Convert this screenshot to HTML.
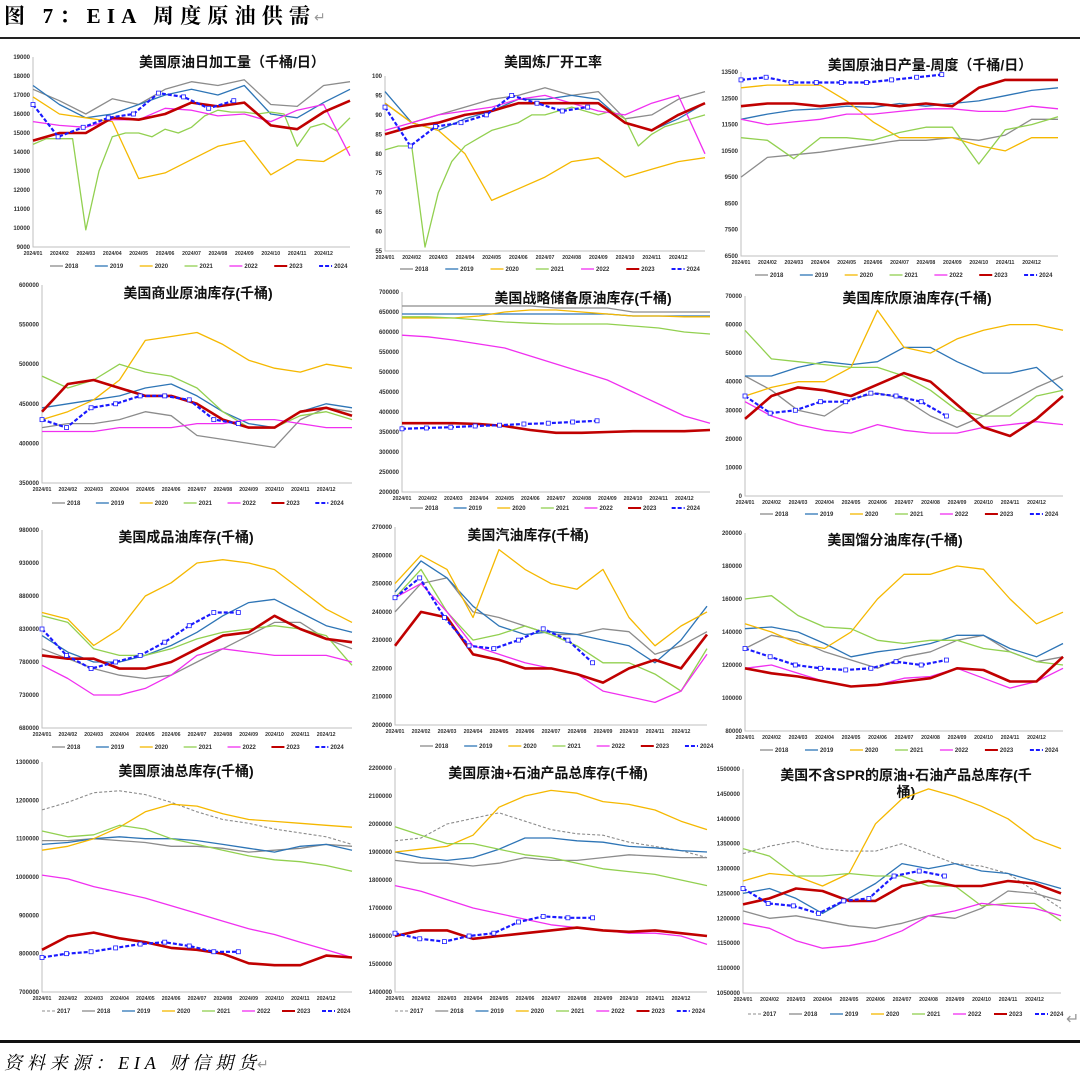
<!DOCTYPE html>
<html><head><meta charset="utf-8">
<style>
html,body{margin:0;padding:0;background:#fff;}
svg{display:block;font-family:"Liberation Sans","Noto Sans CJK SC",sans-serif;}
</style></head>
<body>
<svg id="root" width="1080" height="1078" viewBox="0 0 1080 1078" xmlns="http://www.w3.org/2000/svg">
<text x="4" y="23" font-size="21" font-weight="bold" font-family="Liberation Serif,Noto Serif CJK SC,serif" textLength="306" lengthAdjust="spacing">图 7：EIA 周度原油供需</text>
<text x="314" y="22" font-size="14" fill="#999">↵</text>
<rect x="0" y="37" width="1080" height="2" fill="#222"/>
<rect x="0" y="1040" width="1080" height="3" fill="#111"/>
<text x="4" y="1069" font-size="18" font-style="italic" font-family="Liberation Serif,Noto Serif CJK SC,serif" textLength="252" lengthAdjust="spacing">资料来源：EIA 财信期货</text>
<text x="257" y="1069" font-size="14" fill="#999">↵</text>
<text x="1066" y="1024" font-size="16" fill="#999">↵</text>
<g id="charts"></g>
</svg>
<script>
// ---- Panel 1: crude runs (kb/d)
const p1_2018=[17300,16700,16000,16800,16500,17300,17700,17500,17800,16500,16400,17500,17700];
const p1_2019=[17500,16500,15800,16000,16500,17000,17300,17000,17500,16000,15800,16600,17300];
const p1_2020=[16900,16000,15800,15600,12600,12900,13600,14300,14600,12800,13600,13500,14300];
const p1_2021=[14400,14700,14700,14700,9900,13000,14800,15000,15000,14800,15200,15000,15300,15900,16200,16100,16100,16000,16100,16000,14300,15300,15500,15100,15800];
const p1_2022=[15600,15400,15300,15700,15700,16300,16200,15900,16000,15600,16200,16500,13800];
const p1_2023=[14600,15000,15000,15800,15700,16000,16600,16400,16600,15400,15200,16100,16700];
const p1_2024=[16500,14800,15300,15800,16000,17100,16900,16300,16700];
// ---- Panel 2: refinery utilization (%)
const p2_2018=[93,88,90,92,94,95,97,95,96,89,90,94,96];
const p2_2019=[96,88,86,89,91,94,94,95,94,88,86,89,93];
const p2_2020=[93,88,86,80,68,71,74,78,79,74,76,78,79];
const p2_2021=[81,82,82,56,70,78,82,84,86,87,88,90,90,91,92,91,90,91,89,82,85,87,88,89,90];
const p2_2022=[86,88,90,91,92,94,95,93,91,90,93,95,80];
const p2_2023=[85,87,88,90,91,93,93,93,93,88,86,90,93];
const p2_2024=[92,82,87,88,90,95,93,91,92];
// ---- Panel 3: crude production
const p3_2018=[9500,10250,10350,10450,10600,10750,10900,10900,11000,10900,11100,11700,11700];
const p3_2019=[11700,11900,12050,12100,12200,12150,12300,12200,12300,12400,12600,12800,12900];
const p3_2020=[12900,13000,13000,13000,12400,11600,11000,11000,11000,10700,10500,11000,11000];
const p3_2021=[11000,10900,10200,11000,11000,10900,11200,11400,11400,10000,11300,11500,11800];
const p3_2022=[11700,11500,11600,11700,11900,11900,12000,12100,12100,12000,12000,12200,12100];
const p3_2023=[12200,12300,12300,12200,12300,12300,12200,12300,12200,12900,13200,13200,13200];
const p3_2024=[13200,13300,13100,13100,13100,13100,13200,13300,13400];
// ---- Panel 4: commercial crude stocks (thousands of k bbl)
const p4_2018=[420,425,425,430,440,435,410,405,400,395,430,445,440];
const p4_2019=[445,450,455,460,470,475,460,440,425,420,440,450,445];
const p4_2020=[430,440,455,480,530,535,540,525,505,495,490,500,495];
const p4_2021=[485,470,480,500,490,485,470,440,420,420,435,440,430];
const p4_2022=[415,415,415,420,420,420,425,425,430,430,425,420,420];
const p4_2023=[440,475,480,470,460,460,450,430,420,420,440,445,435];
const p4_2024=[430,420,445,450,460,460,455,430,425];
// ---- Panel 5: SPR
const p5_2018=[665,665,665,665,665,665,660,660,660,650,650,650,650];
const p5_2019=[645,645,645,645,645,645,645,645,645,640,640,640,640];
const p5_2020=[635,635,635,640,650,655,655,650,645,640,640,638,638];
const p5_2021=[638,638,635,630,625,622,620,620,620,615,610,600,595];
const p5_2022=[592,588,580,570,560,540,520,500,480,450,420,390,372];
const p5_2023=[372,372,372,370,365,355,348,348,350,352,352,352,355];
const p5_2024=[358,360,362,365,367,370,372,375,378];
// ---- Panel 6: Cushing
const p6_2018=[42,37,30,28,34,36,34,28,24,28,33,38,42];
const p6_2019=[42,42,45,47,46,47,52,52,47,43,43,45,37];
const p6_2020=[35,38,40,40,45,65,52,50,55,58,60,60,58];
const p6_2021=[58,48,47,46,45,45,42,37,30,28,28,35,37];
const p6_2022=[33,28,25,23,22,25,23,22,22,24,25,26,25];
const p6_2023=[27,35,38,37,35,39,43,40,32,24,21,27,35];
const p6_2024=[35,29,30,33,33,36,35,33,28];
// ---- Panel 7: product stocks
const p7_2018=[800,785,770,760,755,760,780,800,820,840,840,815,800];
const p7_2019=[820,795,780,780,790,805,825,850,870,875,855,835,825];
const p7_2020=[855,845,805,830,880,900,930,935,930,920,890,860,840];
const p7_2021=[850,840,800,790,790,800,815,825,830,835,830,820,775];
const p7_2022=[775,755,730,730,740,760,790,800,795,790,790,790,780];
const p7_2023=[790,785,785,770,770,780,800,820,825,850,830,815,810];
const p7_2024=[830,790,770,780,790,810,835,855,855];
// ---- Panel 8: gasoline
const p8_2018=[240,250,252,240,238,235,232,232,234,233,225,228,233];
const p8_2019=[247,258,252,242,235,232,233,232,230,228,222,230,242];
const p8_2020=[250,260,255,238,262,255,250,248,255,238,228,235,240];
const p8_2021=[245,255,240,230,232,235,232,228,222,222,218,212,227];
const p8_2022=[245,250,240,228,225,222,220,218,212,210,208,212,225];
const p8_2023=[228,240,238,225,223,220,220,218,215,220,223,220,232];
const p8_2024=[245,252,238,228,227,230,234,230,222];
// ---- Panel 9: distillate
const p9_2018=[130,138,135,128,123,118,125,128,135,138,128,122,125];
const p9_2019=[142,143,140,133,125,128,130,133,138,138,130,125,133];
const p9_2020=[145,140,133,130,140,160,175,175,180,178,160,145,152];
const p9_2021=[160,162,150,143,142,135,133,135,135,130,128,122,120];
const p9_2022=[118,120,115,110,107,108,112,113,118,112,106,110,118];
const p9_2023=[118,115,113,110,107,108,110,112,118,117,110,110,125];
const p9_2024=[130,125,120,118,117,118,122,120,123];
// ---- Panel 10: total crude
const p10_2017=[1175,1195,1220,1225,1215,1195,1170,1150,1140,1125,1115,1105,1085];
const p10_2018=[1095,1095,1100,1095,1090,1080,1080,1075,1065,1070,1075,1085,1080];
const p10_2019=[1085,1090,1100,1105,1100,1100,1095,1085,1075,1065,1080,1085,1070];
const p10_2020=[1070,1080,1100,1130,1170,1190,1185,1165,1150,1145,1140,1135,1130];
const p10_2021=[1120,1105,1110,1135,1125,1100,1085,1070,1055,1045,1040,1030,1015];
const p10_2022=[1005,995,975,960,945,925,905,885,865,850,830,810,790];
const p10_2023=[810,845,855,840,830,815,810,800,775,770,770,795,790];
const p10_2024=[790,800,805,815,825,830,820,805,805];
// ---- Panel 11: crude + products
const p11_2017=[1940,1950,2000,2020,2040,2010,1980,1965,1960,1935,1920,1905,1880];
const p11_2018=[1870,1860,1860,1850,1860,1880,1870,1870,1880,1890,1885,1880,1880];
const p11_2019=[1900,1880,1870,1880,1910,1950,1950,1940,1935,1920,1915,1905,1900];
const p11_2020=[1900,1910,1920,1960,2060,2100,2120,2110,2080,2070,2050,2010,1980];
const p11_2021=[1990,1960,1930,1930,1910,1890,1880,1860,1840,1830,1820,1800,1780];
const p11_2022=[1780,1760,1730,1700,1680,1660,1640,1630,1620,1610,1610,1600,1570];
const p11_2023=[1600,1620,1620,1590,1600,1610,1620,1630,1620,1615,1620,1610,1600];
const p11_2024=[1610,1590,1580,1600,1610,1650,1670,1665,1665];
// ---- Panel 12: ex-SPR crude + products
const p12_2017=[1330,1345,1355,1340,1335,1335,1350,1330,1310,1305,1290,1255,1220];
const p12_2018=[1215,1200,1205,1195,1185,1180,1190,1205,1200,1220,1255,1250,1235];
const p12_2019=[1250,1260,1240,1210,1240,1270,1310,1300,1310,1295,1290,1275,1260];
const p12_2020=[1275,1290,1285,1265,1290,1390,1440,1460,1445,1425,1400,1360,1340];
const p12_2021=[1340,1325,1285,1285,1290,1285,1285,1265,1265,1225,1230,1230,1195];
const p12_2022=[1190,1180,1155,1140,1145,1155,1175,1205,1215,1230,1225,1220,1205];
const p12_2023=[1228,1240,1260,1255,1235,1235,1265,1275,1265,1265,1275,1270,1250];
const p12_2024=[1260,1230,1225,1210,1235,1240,1285,1295,1285];

const monthLabels=["2024/01","2024/02","2024/03","2024/04","2024/05","2024/06","2024/07","2024/08","2024/09","2024/10","2024/11","2024/12"];

const NS="http://www.w3.org/2000/svg";
const root=document.getElementById('charts');
function mk(tag,attrs,parent){const e=document.createElementNS(NS,tag);for(const k in attrs)e.setAttribute(k,attrs[k]);(parent||root).appendChild(e);return e;}

const styles={
 "2017":{c:"#8c8c8c",w:1.1,d:"3,2"},
 "2018":{c:"#8c8c8c",w:1.3},
 "2019":{c:"#2e75b6",w:1.3},
 "2020":{c:"#f5b800",w:1.3},
 "2021":{c:"#92d050",w:1.3},
 "2022":{c:"#f030f0",w:1.3},
 "2023":{c:"#c00000",w:2.6},
 "2024":{c:"#1a1aff",w:2.2,d:"4,2"}
};

const panels=[
 {id:1,title:"美国原油日加工量（千桶/日）",tx:232,ty:67,x0:33,x1:350,y0:57,y1:247,min:9000,max:19000,step:1000,mult:1,series:{"2018":p1_2018,"2019":p1_2019,"2020":p1_2020,"2021":p1_2021,"2022":p1_2022,"2023":p1_2023,"2024":p1_2024},ly:268,lx:50},
 {id:2,title:"美国炼厂开工率",tx:553,ty:67,x0:385,x1:705,y0:76,y1:251,min:55,max:100,step:5,mult:1,series:{"2018":p2_2018,"2019":p2_2019,"2020":p2_2020,"2021":p2_2021,"2022":p2_2022,"2023":p2_2023,"2024":p2_2024},ly:271,lx:400},
 {id:3,title:"美国原油日产量-周度（千桶/日）",tx:930,ty:70,x0:741,x1:1058,y0:72,y1:256,min:6500,max:13500,step:1000,mult:1,series:{"2018":p3_2018,"2019":p3_2019,"2020":p3_2020,"2021":p3_2021,"2022":p3_2022,"2023":p3_2023,"2024":p3_2024},ly:277,lx:755},
 {id:4,title:"美国商业原油库存(千桶)",tx:198,ty:298,x0:42,x1:352,y0:285,y1:483,min:350,max:600,step:50,mult:1000,series:{"2018":p4_2018,"2019":p4_2019,"2020":p4_2020,"2021":p4_2021,"2022":p4_2022,"2023":p4_2023,"2024":p4_2024},ly:505,lx:52},
 {id:5,title:"美国战略储备原油库存(千桶)",tx:583,ty:303,x0:402,x1:710,y0:292,y1:492,min:200,max:700,step:50,mult:1000,series:{"2018":p5_2018,"2019":p5_2019,"2020":p5_2020,"2021":p5_2021,"2022":p5_2022,"2023":p5_2023,"2024":p5_2024},ly:510,lx:410},
 {id:6,title:"美国库欣原油库存(千桶)",tx:917,ty:303,x0:745,x1:1063,y0:296,y1:496,min:0,max:70,step:10,mult:1000,series:{"2018":p6_2018,"2019":p6_2019,"2020":p6_2020,"2021":p6_2021,"2022":p6_2022,"2023":p6_2023,"2024":p6_2024},ly:516,lx:760},
 {id:7,title:"美国成品油库存(千桶)",tx:186,ty:542,x0:42,x1:352,y0:530,y1:728,min:680,max:980,step:50,mult:1000,series:{"2018":p7_2018,"2019":p7_2019,"2020":p7_2020,"2021":p7_2021,"2022":p7_2022,"2023":p7_2023,"2024":p7_2024},ly:749,lx:52},
 {id:8,title:"美国汽油库存(千桶)",tx:528,ty:540,x0:395,x1:707,y0:527,y1:725,min:200,max:270,step:10,mult:1000,series:{"2018":p8_2018,"2019":p8_2019,"2020":p8_2020,"2021":p8_2021,"2022":p8_2022,"2023":p8_2023,"2024":p8_2024},ly:748,lx:420},
 {id:9,title:"美国馏分油库存(千桶)",tx:895,ty:545,x0:745,x1:1063,y0:533,y1:731,min:80,max:200,step:20,mult:1000,series:{"2018":p9_2018,"2019":p9_2019,"2020":p9_2020,"2021":p9_2021,"2022":p9_2022,"2023":p9_2023,"2024":p9_2024},ly:752,lx:760},
 {id:10,title:"美国原油总库存(千桶)",tx:186,ty:776,x0:42,x1:352,y0:762,y1:992,min:700,max:1300,step:100,mult:1000,series:{"2017":p10_2017,"2018":p10_2018,"2019":p10_2019,"2020":p10_2020,"2021":p10_2021,"2022":p10_2022,"2023":p10_2023,"2024":p10_2024},ly:1013,lx:42},
 {id:11,title:"美国原油+石油产品总库存(千桶)",tx:548,ty:778,x0:395,x1:707,y0:768,y1:992,min:1400,max:2200,step:100,mult:1000,series:{"2017":p11_2017,"2018":p11_2018,"2019":p11_2019,"2020":p11_2020,"2021":p11_2021,"2022":p11_2022,"2023":p11_2023,"2024":p11_2024},ly:1013,lx:395},
 {id:12,title:"美国不含SPR的原油+石油产品总库存(千",title2:"桶)",tx:906,ty:780,x0:743,x1:1061,y0:769,y1:993,min:1050,max:1500,step:50,mult:1000,series:{"2017":p12_2017,"2018":p12_2018,"2019":p12_2019,"2020":p12_2020,"2021":p12_2021,"2022":p12_2022,"2023":p12_2023,"2024":p12_2024},ly:1016,lx:748}
];

panels.forEach(p=>{
 const g=mk('g',{});
 
 
 const yS=v=>p.y1-(v-p.min)/(p.max-p.min)*(p.y1-p.y0);
 const xS=m=>p.x0+m/12*(p.x1-p.x0);
 const ax=mk('path',{d:`M${p.x0},${p.y0}V${p.y1}H${p.x1}`,stroke:'#bfbfbf',fill:'none','stroke-width':1},g);
 
 
 for(let v=p.min;v<=p.max+1e-9;v+=p.step){
  const t=mk('text',{x:p.x0-3,y:yS(v)+2,'font-size':6,'font-weight':'bold','text-anchor':'end',fill:'#333'},g);
  t.textContent=String(Math.round(v*p.mult));
  
  
 }
 monthLabels.forEach((lab,i)=>{
  const t=mk('text',{x:xS(i),y:p.y1+8,'font-size':5.2,'font-weight':'bold','text-anchor':'middle',fill:'#333'},g);
  t.textContent=lab;
  
  
 });
 const tt=mk('text',{x:p.tx,y:p.ty,'font-size':14,'font-weight':'bold','text-anchor':'middle',fill:'#111'},g);
 tt.textContent=p.title;
 
 
 if(p.title2){
  const t2=mk('text',{x:p.tx,y:p.ty+17,'font-size':14,'font-weight':'bold','text-anchor':'middle',fill:'#111'},g);
  t2.textContent=p.title2;
  
  
 }
 const yrs=Object.keys(p.series);
 yrs.forEach(y=>{
  const arr=p.series[y], st=styles[y];
  const span=(y==="2024")?7.6:12;
  const pts=arr.map((v,i)=>[xS(i/(arr.length-1)*span),yS(v)]);
  const attrs={points:pts.map(q=>q[0].toFixed(1)+','+q[1].toFixed(1)).join(' '),fill:'none',stroke:st.c,'stroke-width':st.w,'stroke-linejoin':'round'};
  if(st.d)attrs['stroke-dasharray']=st.d;
  const pl=mk('polyline',attrs,g);
  
  
  if(y==="2024"){
   pts.forEach(q=>{
    const r=mk('rect',{x:q[0]-2,y:q[1]-2,width:4,height:4,fill:'#fff',stroke:'#1a1aff','stroke-width':0.8},g);
    
    
   });
  }
 });
 const spacing=(p.x1-p.x0+10)/yrs.length;
 yrs.forEach((y,i)=>{
  const st=styles[y];
  const lx=p.lx+i*spacing*(yrs.length===8?1.0:0.96);
  const lg=mk('g',{},g);
  
  
  const la={x1:lx,x2:lx+13,y1:p.ly-2,y2:p.ly-2,stroke:st.c,'stroke-width':Math.min(st.w,2)};
  if(st.d)la['stroke-dasharray']=st.d;
  mk('line',la,lg);
  const lt=mk('text',{x:lx+15,y:p.ly,'font-size':6,'font-weight':'bold',fill:'#333'},lg);
  lt.textContent=y;
 });
});
</script>
</body></html>
